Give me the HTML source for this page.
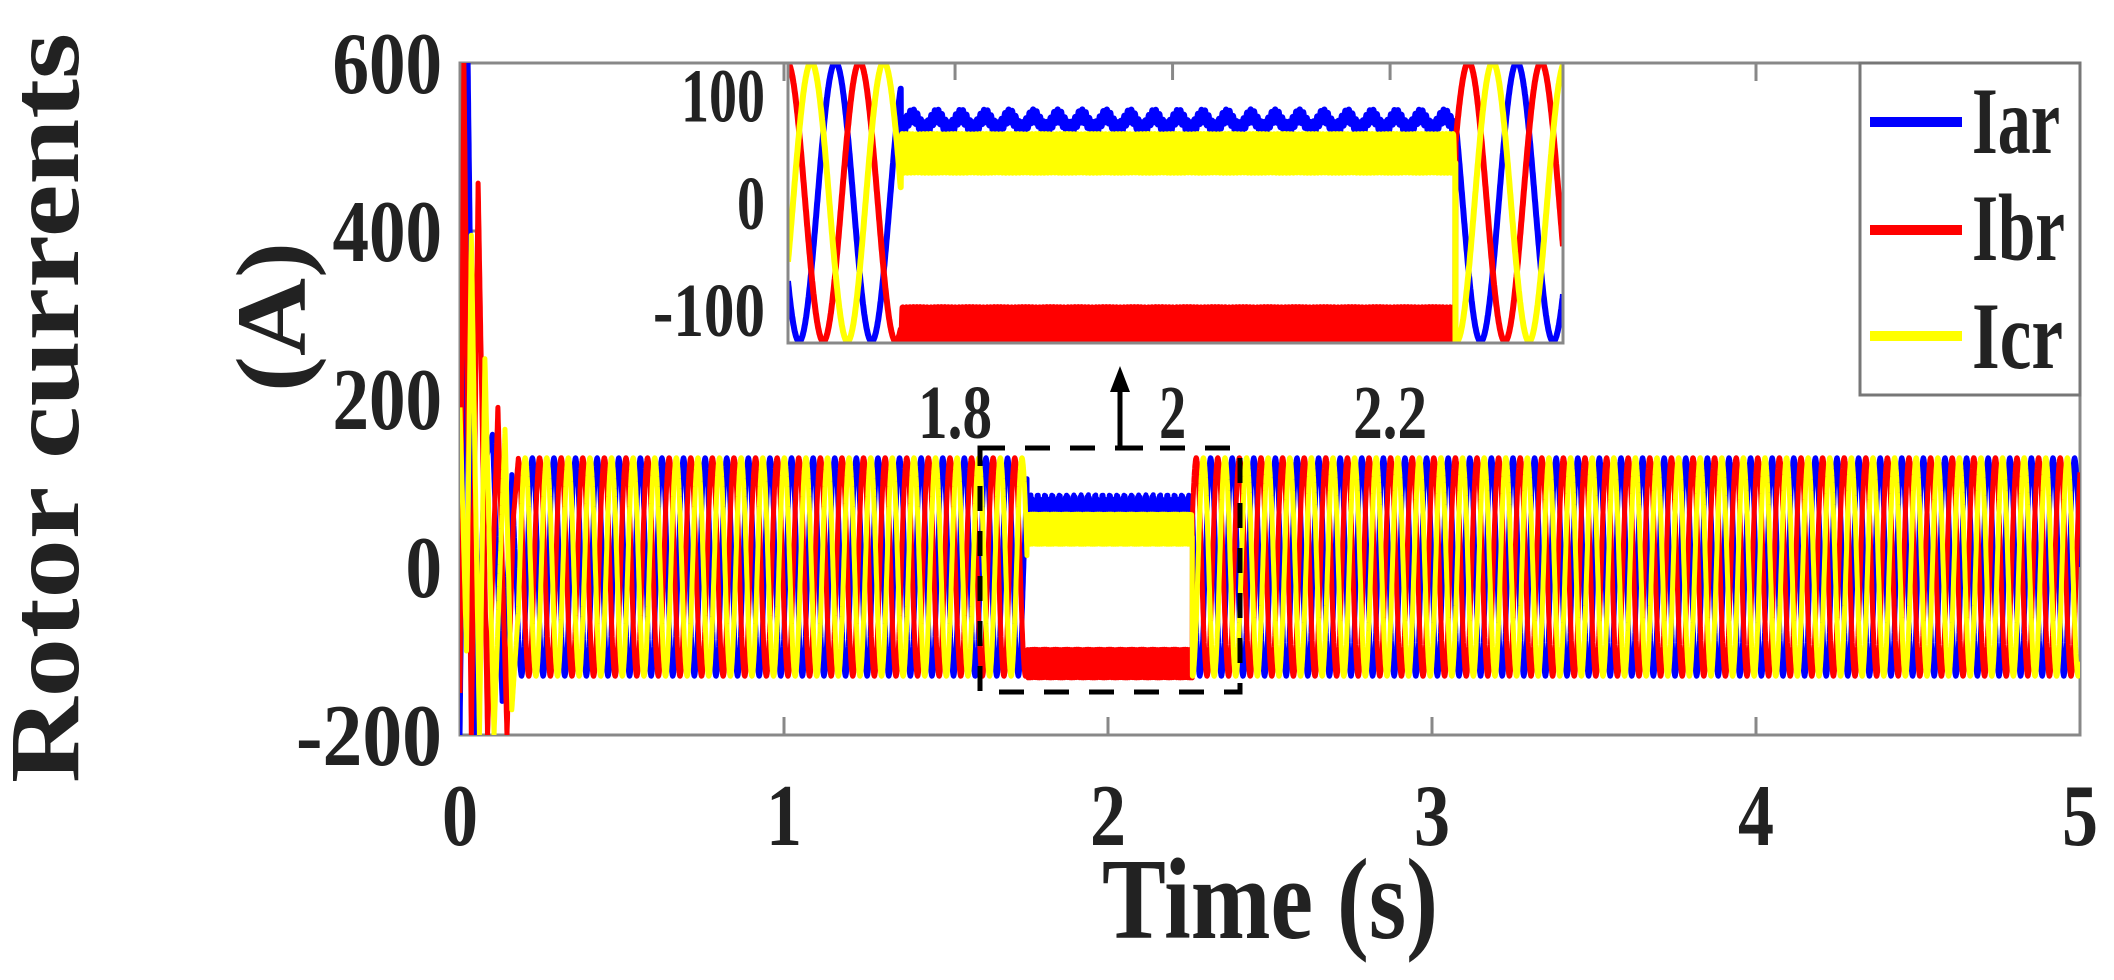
<!DOCTYPE html>
<html><head><meta charset="utf-8"><style>
html,body{margin:0;padding:0;background:#fff;}
svg{display:block;}
text{font-family:"Liberation Serif",serif;font-weight:bold;fill:#222;}
</style></head><body>
<svg id="chart" width="2114" height="980" viewBox="0 0 2114 980" xmlns="http://www.w3.org/2000/svg">
<defs>
<clipPath id="mainClip"><rect x="460" y="63" width="1620" height="672"/></clipPath>
<clipPath id="insetClip"><rect x="788" y="63" width="775" height="280"/></clipPath>
</defs>
<g id="mainAxes"></g>
<g id="mainSeries" clip-path="url(#mainClip)"></g>
<g id="overlay"></g>
<g id="inset"></g>
<text transform="translate(78,783) rotate(-90)" font-size="100" textLength="750" lengthAdjust="spacingAndGlyphs">Rotor currents</text>
<text transform="translate(305,392) rotate(-90)" font-size="100" textLength="150" lengthAdjust="spacingAndGlyphs">(A)</text>
<text x="1102" y="938" font-size="115" textLength="336" lengthAdjust="spacingAndGlyphs">Time (s)</text>
<g>
<rect x="1860" y="63" width="220" height="332" fill="#fff" stroke="#777" stroke-width="3"/>
<line x1="1870" y1="122" x2="1962" y2="122" stroke="#0000ff" stroke-width="10"/>
<line x1="1870" y1="230" x2="1962" y2="230" stroke="#ff0000" stroke-width="10"/>
<line x1="1870" y1="336" x2="1962" y2="336" stroke="#ffff00" stroke-width="10"/>
<text x="1972" y="153" font-size="95" fill="#000" textLength="88" lengthAdjust="spacingAndGlyphs">Iar</text>
<text x="1972" y="260" font-size="95" fill="#000" textLength="93" lengthAdjust="spacingAndGlyphs">Ibr</text>
<text x="1972" y="368" font-size="95" fill="#000" textLength="91" lengthAdjust="spacingAndGlyphs">Icr</text>
</g>
</svg>
<script>
// ---- data ----
const seriesNames = ['Iar','Ibr','Icr'];
const seriesColors = ['#0000ff','#ff0000','#ffff00'];
const steadyAmp = [130,130,130];
const phaseShiftDeg = [0,-120,120];
const freqHz = [15];
const preRefTime = [1.690];
const postRefTime = [2.250];
const faultWindow = [1.75, 2.26];
const faultLevel = [74,-115,45];
const faultRipple = [12,17,18];
const transientEnd = [0.18];
const transientIar = [[0,-200],[0.025,600],[0.05,-200],[0.075,120],[0.1,158],[0.13,-160],[0.16,110]];
const transientIbr = [[0,-150],[0.012,600],[0.035,-200],[0.056,457],[0.085,-200],[0.117,190],[0.145,-200],[0.165,60]];
const transientIcr = [[0,190],[0.02,-100],[0.035,395],[0.06,-200],[0.077,248],[0.105,-200],[0.139,164],[0.16,-170]];
const transients = [transientIar, transientIbr, transientIcr];
const yTicks = [600,400,200,0,-200];
const xTicks = [0,1,2,3,4,5];
const insetYTicks = [100,0,-100];
const insetXTicks = [1.8,2,2.2];
const insetXTickLabels = ['1.8','2','2.2'];

// ---- scales ----
const M = {x0:460, x1:2080, t0:0, t1:5, y0:735, y1:63, v0:-200, v1:600};
const I = {x0:788, x1:1563, t0:1.6464, t1:2.359, y0:343, y1:63, v0:-131.4, v1:129.1};
function sx(s,t){return s.x0+(t-s.t0)/(s.t1-s.t0)*(s.x1-s.x0);}
function sy(s,v){return s.y0+(v-s.v0)/(s.v1-s.v0)*(s.y1-s.y0);}

function steady(k,t){
  const ref = t<faultWindow[0] ? preRefTime[0] : postRefTime[0];
  return steadyAmp[k]*Math.cos(2*Math.PI*freqHz[0]*(t-ref)+phaseShiftDeg[k]*Math.PI/180);
}
function value(k,t){
  const tr = transients[k];
  if(t<transientEnd[0]){
    for(let i=0;i<tr.length-1;i++){
      if(t>=tr[i][0]&&t<=tr[i+1][0]){const f=(t-tr[i][0])/(tr[i+1][0]-tr[i][0]);return tr[i][1]+f*(tr[i+1][1]-tr[i][1]);}
    }
    const last=tr[tr.length-1]; const end=steady(k,transientEnd[0]);
    const f=(t-last[0])/(transientEnd[0]-last[0]); return last[1]+f*(end-last[1]);
  }
  if(t>=faultWindow[0]&&t<=faultWindow[1]){
    let r;
    if(k===0) r=0.5*faultRipple[k]*Math.sin(2*Math.PI*45*t)+0.5*faultRipple[k]*Math.sin(2*Math.PI*310*t);
    else r=faultRipple[k]*Math.sin(2*Math.PI*310*t+k);
    return faultLevel[k]+r;
  }
  return steady(k,t);
}
function buildPath(s,k,dt){
  let d='';
  for(let t=s.t0;t<=s.t1+1e-9;t+=dt){
    const x=sx(s,t), y=sy(s,value(k,t));
    d+=(d?'L':'M')+x.toFixed(1)+' '+y.toFixed(1);
  }
  return d;
}
const NS='http://www.w3.org/2000/svg';
function el(tag,attrs,parent){const e=document.createElementNS(NS,tag);for(const a in attrs)e.setAttribute(a,attrs[a]);parent.appendChild(e);return e;}

// ---- main axes ----
const ax=document.getElementById('mainAxes');
const frame=el('rect',{x:460,y:63,width:1620,height:672,fill:'none',stroke:'#888','stroke-width':3},ax);


yTicks.forEach(v=>{
  const y=sy(M,v);
  const tk=el('line',{x1:460,y1:y,x2:478,y2:y,stroke:'#888','stroke-width':3},ax);
  
  
  const lb=el('text',{x:442,y:y+30,'font-size':88,'text-anchor':'end',textLength:String(v).length*36.5,lengthAdjust:'spacingAndGlyphs'},ax);
  lb.textContent=String(v);
  
  
});
xTicks.forEach(v=>{
  const x=sx(M,v);
  const tk=el('line',{x1:x,y1:735,x2:x,y2:717,stroke:'#888','stroke-width':3},ax);
  
  
  const tk2=el('line',{x1:x,y1:63,x2:x,y2:81,stroke:'#888','stroke-width':3},ax);
  
  
  const lb=el('text',{x:x,y:845,'font-size':88,'text-anchor':'middle',textLength:36,lengthAdjust:'spacingAndGlyphs'},ax);
  lb.textContent=String(v);
  
  
});

// ---- main series ----
const ms=document.getElementById('mainSeries');
for(let k=0;k<3;k++){
  const p=el('path',{d:buildPath(M,k,0.0005),fill:'none',stroke:seriesColors[k],'stroke-width':5,'stroke-linejoin':'round'},ms);
  
  
}

// ---- overlay: dashed box + arrow ----
const ov=document.getElementById('overlay');
const box=el('rect',{x:980,y:448,width:260,height:244,fill:'none',stroke:'#000','stroke-width':5,'stroke-dasharray':'25 20'},ov);


const arr=el('path',{d:'M1143 448 L1120 448 L1120 380',fill:'none',stroke:'#000','stroke-width':5},ov);


const head=el('path',{d:'M1120 366 L1110 392 L1130 392 Z',fill:'#000'},ov);



// ---- inset ----
const ins=document.getElementById('inset');
const bg=el('rect',{x:788,y:63,width:775,height:280,fill:'#fff'},ins);


const ig=el('g',{'clip-path':'url(#insetClip)'},ins);


for(let k=0;k<3;k++){
  const p=el('path',{d:buildPath(I,k,0.0002),fill:'none',stroke:seriesColors[k],'stroke-width':6,'stroke-linejoin':'round'},ig);
  
  
}
const ifr=el('rect',{x:788,y:63,width:775,height:280,fill:'none',stroke:'#888','stroke-width':3},ins);


insetYTicks.forEach(v=>{
  const y=sy(I,v);
  const lb=el('text',{x:765,y:y+27,'font-size':76,'text-anchor':'end',textLength:String(v).length*28,lengthAdjust:'spacingAndGlyphs'},ins);
  lb.textContent=String(v);
  
  
});
insetXTicks.forEach((v,i)=>{
  const x=sx(I,v);
  const tk=el('line',{x1:x,y1:63,x2:x,y2:80,stroke:'#888','stroke-width':3},ins);
  
  
  const s=insetXTickLabels[i];
  const lb=el('text',{x:x,y:438,'font-size':76,'text-anchor':'middle',textLength:s.length===1?27:74,lengthAdjust:'spacingAndGlyphs'},ins);
  lb.textContent=s;
  
  
});
</script>
</body></html>
